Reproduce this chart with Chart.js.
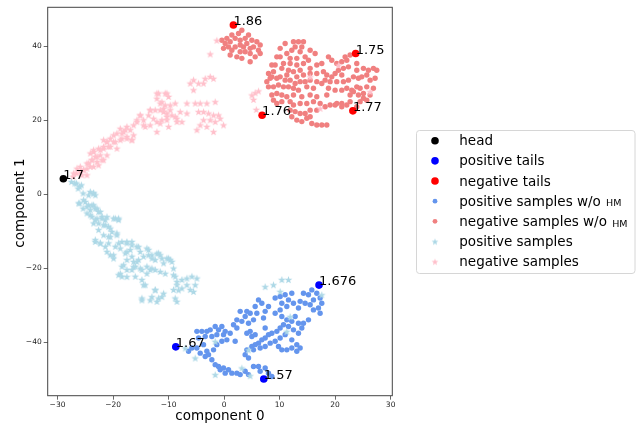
<!DOCTYPE html>
<html lang="en">
<head>
    <meta charset="UTF-8">
    <title>Embedding components</title>
    <style>
        body { margin: 0; background: #fff; }
        canvas { display: block; }
    </style>
</head>
<body>
    <canvas id="embedChart" width="641" height="423"></canvas>
    <script src="https://cdn.jsdelivr.net/npm/chart.js"></script>
    <script>
        // ticks of both axes
        const xTicks = [-30, -20, -10, 0, 10, 20, 30];
        const yTicks = [-40, -20, 0, 20, 40];

        // head and tails (component 0, component 1) with their values
        const headPoints = [[-28.95, 4.25]];
        const headLabels = ['1.7'];
        const positiveTails = [[17.1, -24.5], [-8.7, -41.2], [7.15, -49.9]];
        const positiveTailLabels = ['1.676', '1.67', '1.57'];
        const negativeTails = [[1.68, 45.8], [23.7, 38.1], [6.85, 21.4], [23.2, 22.6]];
        const negativeTailLabels = ['1.86', '1.75', '1.76', '1.77'];

        // positive samples w/o HM (blue dots)
        const positiveWoHM = [
            [15.8,-25.8],[16.7,-26.7],[17.3,-28.0],[17.6,-29.4],[17.0,-30.7],[17.3,-32.1],[16.1,-28.5],[15.2,-27.1],
            [14.3,-26.7],[13.7,-28.9],[14.6,-29.4],[15.5,-29.8],[16.1,-31.2],[13.4,-30.7],[12.5,-29.4],[11.6,-28.5],
            [12.2,-26.7],[11.0,-27.1],[10.1,-27.6],[9.2,-28.0],[10.4,-29.4],[11.3,-30.3],[10.1,-31.2],[9.2,-32.1],
            [10.4,-33.0],[11.3,-33.9],[12.2,-34.3],[12.8,-33.0],[13.4,-34.8],[14.3,-34.8],[15.2,-33.9],[14.0,-36.1],
            [13.4,-37.5],[12.5,-36.6],[11.6,-35.7],[10.7,-35.2],[10.1,-36.1],[9.5,-37.0],[8.6,-37.5],[8.0,-37.9],
            [7.4,-38.8],[6.8,-39.3],[6.2,-40.2],[5.6,-40.6],[5.0,-41.1],[4.1,-42.0],[3.8,-43.3],[4.4,-44.2],
            [5.3,-42.0],[6.5,-41.5],[7.4,-41.1],[8.3,-40.2],[9.2,-39.7],[10.1,-38.8],[11.0,-37.9],[12.2,-39.3],
            [13.1,-40.6],[13.7,-41.5],[13.1,-42.4],[12.2,-41.5],[11.3,-42.0],[10.4,-42.0],[9.8,-41.1],[7.4,-36.1],
            [7.1,-33.4],[7.4,-31.6],[8.0,-30.3],[6.8,-29.4],[6.2,-28.5],[5.6,-30.3],[5.9,-32.1],[5.3,-33.9],
            [4.7,-32.1],[4.1,-31.6],[3.8,-33.0],[4.4,-34.8],[4.7,-37.0],[4.1,-37.5],[5.0,-38.4],[5.6,-37.9],
            [3.2,-34.3],[2.3,-33.9],[1.7,-35.2],[2.3,-36.1],[2.9,-31.6],[1.1,-37.5],[0.2,-37.0],[-0.4,-35.7],
            [-1.0,-36.6],[-1.6,-35.7],[-2.5,-36.6],[-3.1,-37.0],[-4.0,-37.0],[-4.9,-37.0],[-4.6,-38.8],[-3.4,-38.4],
            [-2.2,-38.4],[-1.3,-37.9],[-0.1,-37.9],[0.5,-39.3],[2.0,-39.7],[-0.4,-39.7],[-1.3,-40.6],[-1.9,-42.0],
            [-2.8,-43.3],[-3.4,-43.8],[-4.3,-42.9],[-4.9,-41.5],[-5.8,-41.5],[-6.4,-42.4],[-3.1,-42.4],[-3.7,-40.6],
            [-2.2,-44.7],[-1.0,-46.5],[-0.1,-46.9],[0.8,-47.4],[1.4,-48.3],[2.3,-48.3],[2.9,-48.7],[3.8,-47.8],
            [4.4,-48.7],[0.2,-48.3],[-0.7,-47.4],[-1.6,-46.0],[5.3,-46.5],[6.2,-46.5],[7.4,-46.9],[6.5,-47.8],
            [8.0,-48.3],[8.6,-49.2]
        ];

        // negative samples w/o HM (light red dots)
        const negativeWoHM = [
            [3.2,44.4],[2.6,43.5],[1.4,43.1],[0.5,42.2],[-0.4,41.7],[0.2,40.8],[1.1,41.3],[2.0,42.2],[2.9,41.7],
            [3.8,42.2],[2.0,39.9],[2.9,40.4],[3.5,39.9],[4.1,40.8],[4.7,39.5],[5.3,39.9],[5.9,41.3],[6.5,40.4],
            [6.2,39.0],[6.5,38.1],[4.7,38.1],[3.8,38.6],[2.9,38.6],[1.4,39.0],[1.1,37.7],[2.3,37.2],[3.2,36.8],
            [4.7,35.9],[5.6,37.2],[5.0,41.7],[4.4,43.1],[-0.1,39.5],[0.8,39.9],
            [12.5,41.3],[13.4,41.3],[14.3,41.3],[12.8,39.9],[14.0,39.9],[13.7,38.6],[12.2,39.0],[11.3,38.1],
            [10.1,37.2],[9.5,37.2],[11.9,36.8],[13.1,36.8],[14.6,37.2],[15.2,36.3],[14.3,35.4],[13.1,35.0],
            [11.9,35.4],[10.7,35.4],[9.2,35.0],[8.6,35.0],[10.4,34.1],[11.6,33.6],[12.5,33.2],[13.7,33.6],
            [15.5,34.1],[16.7,35.0],[17.6,35.4],[16.7,32.7],[17.9,33.2],[18.5,32.3],[19.4,31.8],[18.8,37.2],
            [19.4,36.3],[20.3,35.4],[21.2,35.9],[22.1,36.3],[21.8,37.2],[22.7,37.7],[20.6,33.6],[21.5,34.1],
            [22.4,34.5],[21.2,32.3],[20.0,32.7],[23.9,35.4],[23.9,33.6],[25.1,34.1],[26.0,33.6],[26.9,34.1],
            [27.5,33.6],[25.7,32.3],[24.8,31.8],[24.2,31.4],[26.3,30.9],[27.2,31.4],[23.3,31.8],[22.4,30.9],
            [21.5,30.5],[20.3,30.5],[19.1,30.5],[18.2,30.9],[17.6,30.0],[16.7,30.5],[15.5,30.9],[14.6,30.5],
            [13.7,30.5],[12.8,30.0],[11.9,30.9],[11.0,30.9],[10.1,31.8],[9.5,31.4],[8.3,31.4],[7.7,30.5],
            [8.0,29.1],[8.9,29.1],[9.8,29.6],[10.7,29.1],[11.6,29.1],[12.5,28.7],[13.4,28.2],[14.9,29.1],
            [16.1,28.7],[18.8,28.7],[20.0,28.2],[21.2,28.2],[22.1,28.7],[23.9,29.1],[24.5,28.7],[25.7,29.1],
            [26.9,28.7],[25.1,27.3],[24.2,26.9],[23.3,27.8],[22.7,26.9],[26.3,26.9],[25.7,25.5],[8.6,26.9],
            [9.5,27.3],[10.4,26.9],[11.3,26.4],[12.5,26.9],[14.0,26.4],[15.5,26.9],[16.7,26.4],[18.5,26.9],
            [19.1,24.2],[20.0,24.2],[18.2,23.7],[17.3,24.6],[16.1,25.1],[14.9,24.6],[13.7,24.6],[12.5,24.2],
            [11.9,25.1],[10.4,25.1],[9.5,24.6],[8.9,25.5],[11.9,22.8],[12.8,22.4],[13.7,21.9],[14.6,21.9],
            [15.5,22.8],[16.7,22.8],[12.2,21.0],[13.1,20.1],[14.0,19.7],[14.9,20.6],[15.8,19.2],[16.7,18.8],
            [17.6,18.8],[18.5,18.8],[15.5,21.0],[21.2,24.6],[22.1,24.2],[22.7,25.1],[23.9,23.7],[24.5,25.1],
            [25.1,26.0],[23.0,28.2],[14.3,32.3],[15.5,32.7],[13.1,31.8],[11.3,32.3],[8.9,33.2],[8.0,32.7],
            [10.1,39.5],[11.0,40.8],[8.6,31.8],[16.4,38.1],[15.5,39.0],[20.3,24.6],[21.2,23.7]
        ];

        // positive samples (light blue stars)
        const positiveSamples = [
            [-27.5,3.5],[-26.6,3.1],[-25.7,2.6],[-26.3,1.7],[-25.4,0.4],[-24.4,-0.1],[-23.5,0.4],[-23.2,-0.1],
            [-26.0,-2.3],[-25.0,-1.9],[-24.4,-2.8],[-23.5,-2.8],[-25.4,-3.7],[-24.1,-4.1],[-23.2,-3.7],[-22.6,-4.6],
            [-24.7,-5.0],[-23.8,-5.9],[-22.9,-6.4],[-22.0,-5.9],[-21.4,-6.8],[-22.6,-7.7],[-23.5,-7.7],[-21.7,-8.2],
            [-20.8,-8.6],[-19.6,-6.4],[-19.0,-6.8],[-19.3,-10.4],[-20.2,-10.0],[-20.8,-11.3],[-23.2,-12.7],[-22.3,-13.1],
            [-21.4,-14.0],[-21.1,-15.4],[-20.5,-16.3],[-19.9,-17.2],[-19.6,-14.0],[-18.4,-12.7],[-17.5,-13.1],[-16.6,-12.7],
            [-15.7,-14.0],[-16.9,-14.9],[-17.8,-15.8],[-17.5,-17.6],[-16.3,-18.1],[-15.4,-17.6],[-14.5,-16.7],[-15.1,-15.4],
            [-13.6,-14.9],[-13.0,-16.3],[-12.4,-17.6],[-11.8,-15.8],[-11.2,-17.2],[-10.9,-18.5],[-10.0,-17.2],[-9.4,-18.1],
            [-18.4,-19.4],[-17.5,-20.3],[-16.6,-20.3],[-16.0,-22.1],[-18.4,-22.1],[-19.0,-21.7],[-14.8,-23.0],[-14.2,-24.4],
            [-12.4,-25.7],[-13.0,-27.6],[-11.8,-28.0],[-11.2,-27.6],[-10.9,-26.7],[-14.8,-28.0],[-9.1,-19.9],[-8.8,-22.1],
            [-7.6,-23.0],[-6.7,-22.6],[-5.8,-22.1],[-4.9,-22.6],[-5.2,-24.4],[-5.5,-26.2],[-6.1,-25.7],[-6.7,-24.4],
            [-7.6,-25.3],[-8.5,-24.4],[-9.1,-25.7],[-8.8,-28.0],[-8.5,-28.9],[-12.4,-20.3],[-13.3,-20.3],[-13.9,-19.4],
            [-16.0,-19.4],[-14.8,-20.3],
            [-26.9,3.1],[-26.0,2.2],[-24.1,0.8],[-23.5,0.4],[-26.2,-2.3],[-25.3,-1.4],[-24.7,-3.2],[-23.8,-2.8],
            [-22.9,-3.7],[-22.3,-4.6],[-24.1,-5.5],[-23.2,-6.8],[-22.0,-6.4],[-21.1,-6.0],[-19.9,-6.4],[-19.0,-6.4],
            [-21.4,-8.2],[-20.5,-9.1],[-22.6,-9.5],[-21.7,-10.9],[-20.5,-11.4],[-19.3,-10.9],[-19.0,-13.1],[-23.2,-12.2],
            [-22.3,-13.1],[-20.8,-13.1],[-17.5,-12.7],[-16.6,-13.6],[-15.4,-14.1],[-17.5,-15.4],[-16.6,-16.7],[-15.7,-18.1],
            [-13.9,-14.5],[-13.6,-16.3],[-13.0,-17.2],[-12.1,-15.9],[-11.5,-16.3],[-10.3,-17.2],[-15.1,-19.9],[-16.3,-19.5],
            [-18.1,-19.0],[-18.7,-21.3],[-17.5,-22.2],[-13.9,-21.3],[-13.0,-19.9],[-11.5,-20.8],[-10.6,-21.3],[-9.1,-21.7],
            [-8.5,-23.5],[-9.7,-17.6],[-14.5,-24.4],[-12.4,-25.8],[-14.8,-28.5],[-13.3,-28.5],[-12.1,-28.9],[-8.2,-25.8],
            [-18.7,-14.5],[-19.9,-16.3],
            [7.4,-24.9],[8.9,-24.4],[10.4,-23.0],[11.6,-23.0],[10.1,-26.2],[17.6,-27.1],[-1.6,-39.7],[-5.2,-44.2],
            [-1.6,-48.7],[3.2,-46.9],[4.4,-42.0],[11.3,-37.0],[11.9,-33.0],[-7.0,-41.5],[4.7,-49.0]
        ];

        // negative samples (pink stars)
        const negativeSamples = [
            [-5.5,31.0],[-4.6,30.1],[-3.4,31.4],[-2.5,31.9],[-1.9,31.4],[-6.1,30.1],[-3.7,30.1],[-5.5,28.3],
            [-11.8,27.4],[-10.6,27.4],[-10.0,26.5],[-12.1,26.0],[-11.2,25.1],[-10.6,24.2],[-9.7,24.2],[-8.8,24.7],
            [-6.7,24.7],[-13.3,22.9],[-12.4,22.9],[-11.5,22.9],[-10.9,22.4],[-10.3,22.0],[-9.4,21.5],[-8.5,20.6],
            [-7.6,19.7],[-6.7,22.0],[-5.2,24.7],[-4.3,24.7],[-3.1,24.7],[-1.6,25.1],[-4.6,22.4],[-3.7,22.4],
            [-2.8,22.0],[-1.9,21.5],[-1.0,21.5],[-0.7,20.6],[-1.6,19.7],[-2.5,20.2],[-3.7,20.2],[-4.3,18.8],
            [-4.9,17.5],[-3.1,18.4],[-1.9,17.0],[-0.1,18.8],[-10.3,20.2],[-11.2,20.2],[-12.1,19.7],[-12.7,20.6],
            [-10.0,18.4],[-13.3,18.8],[-14.2,18.4],[-15.1,21.5],[-15.7,20.2],[-16.3,18.8],[-16.9,17.5],[-17.5,18.4],
            [-18.1,17.0],[-18.7,17.9],[-19.3,16.6],[-19.9,16.1],[-20.5,15.2],[-21.1,14.3],[-21.7,14.8],[-16.3,16.1],
            [-16.6,14.8],[-17.5,15.2],[-18.4,15.2],[-19.6,14.3],[-20.8,13.0],[-21.7,13.0],[-22.6,12.5],[-23.5,12.1],
            [-24.1,11.2],[-23.2,10.3],[-22.3,10.7],[-21.7,9.4],[-22.9,8.9],[-23.8,9.4],[-24.4,8.5],[-23.5,7.6],
            [-24.7,7.1],[-25.3,6.7],[-25.9,6.2],[-26.6,5.8],[-25.6,5.3],[-24.7,5.3],[-27.2,4.9],[-14.5,20.2],
            [-7.9,22.4],[-13.6,21.5],
            [-12.1,27.4],[-10.3,27.4],[-11.5,24.7],[-13.3,22.9],[-10.9,23.3],[-9.7,22.9],[-10.3,21.1],[-8.8,21.1],
            [-8.5,19.7],[-11.5,19.3],[-12.1,17.0],[-15.1,21.5],[-15.7,19.7],[-14.5,18.8],[-17.8,17.5],[-18.4,16.6],
            [-17.5,15.7],[-16.6,14.8],[-18.7,14.8],[-19.9,14.3],[-21.1,14.3],[-20.5,13.0],[-21.7,12.5],[-22.3,12.1],
            [-23.5,11.6],[-22.9,10.3],[-23.8,9.4],[-22.0,9.4],[-21.1,10.7],[-19.3,12.5],[-24.7,8.5],[-25.9,7.6],
            [-25.3,6.7],[-24.1,7.6],[-26.5,7.1],[-27.1,5.8],[-22.6,8.0],
            [-2.5,38.0],[-1.3,41.7],[5.0,26.9],[5.6,27.5],[6.2,28.0],[5.3,25.7],[5.8,23.0],[15.5,31.8],
            [17.3,23.3],[26.3,27.8],[20.6,35.0]
        ];

        const FONT = '"DejaVu Sans", Verdana, sans-serif';

        // filled five-point star, like the matplotlib '*' marker
        function makeStar(color, r) {
            const size = Math.ceil(r * 2 + 2);
            const c = document.createElement('canvas');
            c.width = size;
            c.height = size;
            const g = c.getContext('2d');
            g.fillStyle = color;
            g.beginPath();
            for (let i = 0; i < 10; i++) {
                const rad = i % 2 === 0 ? r : r * 0.4;
                const a = -Math.PI / 2 + i * Math.PI / 5;
                const px = size / 2 + rad * Math.cos(a);
                const py = size / 2 + 0.5 + rad * Math.sin(a);
                if (i === 0) g.moveTo(px, py); else g.lineTo(px, py);
            }
            g.closePath();
            g.fill();
            return c;
        }
        const starBlue = makeStar('#add8e6', 4.1);
        const starPink = makeStar('#ffc0cb', 4.1);
        const legendStarBlue = makeStar('#add8e6', 3.6);
        const legendStarPink = makeStar('#ffc0cb', 3.6);

        const toXY = arr => arr.map(p => ({ x: p[0], y: p[1] }));
        const minus = v => (v < 0 ? '\u2212' + Math.abs(v) : String(v));

        const legendRows = [
            { text: 'head', kind: 'dot', color: '#000000', r: 3.8 },
            { text: 'positive tails', kind: 'dot', color: '#0000ff', r: 3.8 },
            { text: 'negative tails', kind: 'dot', color: '#ff0000', r: 3.8 },
            { text: 'positive samples w/o', sub: 'HM', subShift: 0, kind: 'dot', color: '#6495ed', r: 2.4 },
            { text: 'negative samples w/o', sub: 'HM', subShift: 1.6, kind: 'dot', color: '#f08080', r: 2.4 },
            { text: 'positive samples', kind: 'star', img: legendStarBlue },
            { text: 'negative samples', kind: 'star', img: legendStarPink }
        ];

        const decorPlugin = {
            id: 'decor',
            afterDatasetsDraw(chart) {
                const ctx = chart.ctx;
                const xs = chart.scales.x, ys = chart.scales.y;
                ctx.save();
                ctx.fillStyle = '#000';
                ctx.font = '13px ' + FONT;
                ctx.textAlign = 'left';
                ctx.textBaseline = 'alphabetic';
                const groups = [[headPoints, headLabels], [positiveTails, positiveTailLabels], [negativeTails, negativeTailLabels]];
                groups.forEach(([pts, labels]) => {
                    pts.forEach((p, i) => {
                        ctx.fillText(labels[i], xs.getPixelForValue(p[0]), ys.getPixelForValue(p[1]));
                    });
                });
                ctx.restore();
            },
            afterDraw(chart) {
                const ctx = chart.ctx;
                const a = chart.chartArea;
                ctx.save();
                // frame (all four spines)
                ctx.strokeStyle = '#444';
                ctx.lineWidth = 1;
                ctx.strokeRect(a.left, a.top, a.right - a.left, a.bottom - a.top);

                // axis titles
                ctx.fillStyle = '#000';
                ctx.font = '13.5px ' + FONT;
                ctx.textAlign = 'center';
                ctx.textBaseline = 'alphabetic';
                ctx.fillText('component 0', (a.left + a.right) / 2, 419.5);
                ctx.save();
                ctx.translate(24, (a.top + a.bottom) / 2 + 1.5);
                ctx.rotate(-Math.PI / 2);
                ctx.fillText('component 1', 0, 0);
                ctx.restore();

                // legend box
                const bx = 416.5, by = 130.5, bw = 218.5, bh = 143, rr = 3;
                ctx.beginPath();
                ctx.moveTo(bx + rr, by);
                ctx.arcTo(bx + bw, by, bx + bw, by + bh, rr);
                ctx.arcTo(bx + bw, by + bh, bx, by + bh, rr);
                ctx.arcTo(bx, by + bh, bx, by, rr);
                ctx.arcTo(bx, by, bx + bw, by, rr);
                ctx.closePath();
                ctx.fillStyle = 'rgba(255,255,255,0.8)';
                ctx.fill();
                ctx.strokeStyle = '#d6d6d6';
                ctx.stroke();

                legendRows.forEach((row, i) => {
                    const cy = 140.7 + i * 20.15;
                    const mx = 435;
                    if (row.kind === 'dot') {
                        ctx.beginPath();
                        ctx.arc(mx, cy, row.r, 0, Math.PI * 2);
                        ctx.fillStyle = row.color;
                        ctx.fill();
                    } else {
                        ctx.drawImage(row.img, mx - row.img.width / 2, cy - row.img.height / 2);
                    }
                    ctx.fillStyle = '#000';
                    ctx.font = '13.5px ' + FONT;
                    ctx.textAlign = 'left';
                    ctx.textBaseline = 'alphabetic';
                    const base = cy + 4.5;
                    ctx.fillText(row.text, 459.3, base);
                    if (row.sub) {
                        const w = ctx.measureText(row.text + ' ').width;
                        ctx.font = '9.5px ' + FONT;
                        ctx.fillText(row.sub, 459.3 + w + 1, base + row.subShift);
                    }
                });
                ctx.restore();
            }
        };

        const tickFont = { family: FONT, size: 7.5 };
        const gridOpts = { drawOnChartArea: false, drawTicks: true, tickLength: 4, color: '#444', lineWidth: 0.8 };

        new Chart(document.getElementById('embedChart'), {
            type: 'scatter',
            data: {
                datasets: [
                    { label: 'head', data: toXY(headPoints), backgroundColor: '#000000', pointRadius: 3.8, borderWidth: 0, order: 0 },
                    { label: 'positive tails', data: toXY(positiveTails), backgroundColor: '#0000ff', pointRadius: 3.8, borderWidth: 0, order: 0 },
                    { label: 'negative tails', data: toXY(negativeTails), backgroundColor: '#ff0000', pointRadius: 3.8, borderWidth: 0, order: 0 },
                    { label: 'positive samples', data: toXY(positiveSamples), pointStyle: starBlue, order: 1 },
                    { label: 'negative samples', data: toXY(negativeSamples), pointStyle: starPink, order: 1 },
                    { label: 'positive samples w/o HM', data: toXY(positiveWoHM), backgroundColor: '#6495ed', pointRadius: 2.7, borderWidth: 0, order: 2 },
                    { label: 'negative samples w/o HM', data: toXY(negativeWoHM), backgroundColor: '#f08080', pointRadius: 2.7, borderWidth: 0, order: 2 }
                ]
            },
            options: {
                responsive: false,
                devicePixelRatio: 1,
                animation: false,
                events: [],
                layout: { padding: { left: 0, top: 7.3, right: 248.7, bottom: 0 } },
                plugins: { legend: { display: false }, tooltip: { enabled: false } },
                scales: {
                    x: {
                        type: 'linear',
                        min: -31.77,
                        max: 30.3,
                        afterBuildTicks: s => { s.ticks = xTicks.map(v => ({ value: v })); },
                        afterFit: s => { s.height = 27.3; },
                        ticks: { font: tickFont, color: '#222', padding: 1, maxRotation: 0, autoSkip: false, callback: minus },
                        grid: gridOpts,
                        border: { display: false }
                    },
                    y: {
                        type: 'linear',
                        min: -54.4,
                        max: 50.6,
                        afterBuildTicks: s => { s.ticks = yTicks.map(v => ({ value: v })); },
                        afterFit: s => { s.width = 47.7; },
                        ticks: { font: tickFont, color: '#222', padding: 2, autoSkip: false, callback: minus },
                        grid: gridOpts,
                        border: { display: false }
                    }
                }
            },
            plugins: [decorPlugin]
        });
    </script>
</body>
</html>
